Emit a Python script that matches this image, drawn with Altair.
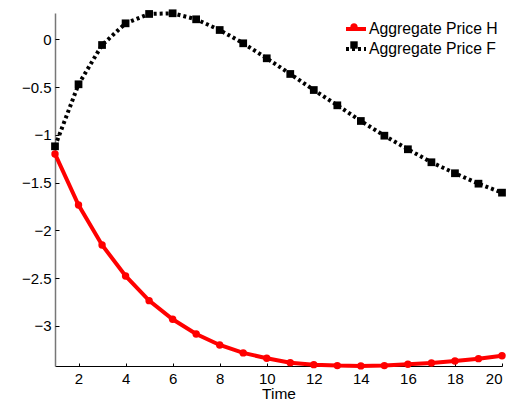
import altair as alt
import pandas as pd

time = list(range(1, 21))
price_h = [-1.200, -1.734, -2.152, -2.477, -2.735, -2.930, -3.084, -3.199, -3.282, -3.338,
           -3.384, -3.405, -3.415, -3.418, -3.415, -3.401, -3.387, -3.366, -3.342, -3.311]
price_f = [-1.120, -0.471, -0.060, 0.167, 0.265, 0.272, 0.209, 0.097, -0.042, -0.199,
           -0.363, -0.531, -0.691, -0.855, -1.009, -1.151, -1.287, -1.402, -1.511, -1.605]
series_names = ["Aggregate Price H", "Aggregate Price F"]
series_codes = ["H", "F"]
x_ticks = [2, 4, 6, 8, 10, 12, 14, 16, 18, 20]
y_ticks = [-3, -2.5, -2, -1.5, -1, -0.5, 0]

df = pd.DataFrame({
    "t": time * 2,
    "v": price_h + price_f,
    "series": [series_names[0]] * len(time) + [series_names[1]] * len(time),
    "code": [series_codes[0]] * len(time) + [series_codes[1]] * len(time),
})
dh = df[df.series == series_names[0]]
dfo = df[df.series == series_names[1]]

FONT = "Liberation Sans"
W, H = 447, 353
xs = alt.Scale(domain=[1, 20], nice=False, zero=False)
ys = alt.Scale(domain=[-3.419, 0.275], nice=False, zero=False)

x_main = alt.X("t:Q", scale=xs, axis=alt.Axis(
    values=x_ticks, title="Time", orient="bottom", tickSize=0, labelPadding=5,
    labelFontSize=15, titleFontSize=15.5, titlePadding=0, titleFontWeight="normal",
    domainColor="#000", domainWidth=1, grid=False, labelColor="#000", titleColor="#000",
    labelFont=FONT, titleFont=FONT))
y_main = alt.Y("v:Q", scale=ys, axis=alt.Axis(
    values=y_ticks, title=None, orient="left", tickSize=0, labelPadding=4,
    labelFontSize=15, domainColor="#777", domainWidth=1.5, grid=False,
    labelColor="#000", labelFont=FONT, format="~g"))
x_in = alt.X("t:Q", scale=xs, axis=alt.Axis(
    values=x_ticks, title=None, orient="top", offset=-H, tickSize=3, labels=False,
    domain=False, grid=False, tickColor="#000"))
y_in = alt.Y("v:Q", scale=ys, axis=alt.Axis(
    values=y_ticks, title=None, orient="right", offset=-W, tickSize=4, labels=False,
    domain=False, grid=False, tickColor="#000"))
x_none = alt.X("t:Q", scale=xs, axis=None)
y_none = alt.Y("v:Q", scale=ys, axis=None)

line_h = alt.Chart(dh).mark_line(color="#ff0000", strokeWidth=4).encode(x=x_main, y=y_main)
pts_h = alt.Chart(dh).mark_point(filled=True, shape="circle", size=55, color="#ff0000",
                                 opacity=1).encode(x=x_none, y=y_none)
line_f = alt.Chart(dfo).mark_line(color="#000000", strokeWidth=4, strokeDash=[3, 3],
                                  strokeCap="butt").encode(x=x_in, y=y_in)
pts_f = alt.Chart(dfo).mark_point(filled=True, shape="square", size=60, color="#000000",
                                  opacity=1).encode(x=x_none, y=y_none)

LX, LY = 289, 4
leg_lines = alt.Legend(title=None, orient="none", legendX=LX, legendY=LY, padding=0,
                       symbolSize=400, symbolStrokeWidth=4, labelOffset=1, rowPadding=-1,
                       labelFontSize=15.75, labelFont=FONT, labelColor="#000",
                       symbolOpacity=1, labelLimit=300, symbolType="stroke")
legend_lines = alt.Chart(df).transform_filter("datum.t < 0").mark_line(opacity=1).encode(
    x=x_none, y=y_none,
    stroke=alt.Stroke("series:N", scale=alt.Scale(domain=series_names, range=["#ff0000", "#000000"]), legend=leg_lines),
    strokeDash=alt.StrokeDash("series:N", scale=alt.Scale(domain=series_names, range=[[1, 0], [3, 3]]), legend=leg_lines),
)

circle_path = "M-0.37,0A0.37,0.37,0,1,1,0.37,0A0.37,0.37,0,1,1,-0.37,0Z"
square_path = "M-0.37,-0.37L0.37,-0.37L0.37,0.37L-0.37,0.37Z"
leg_marks = alt.Legend(title=None, orient="none", legendX=LX, legendY=LY, padding=0,
                       symbolSize=400, symbolStrokeWidth=0, labelOffset=1, rowPadding=-1,
                       labelFontSize=15.75, labelFont=FONT, labelExpr="''",
                       symbolOpacity=1)
legend_marks = alt.Chart(df).transform_filter("datum.t < 0").mark_point(filled=True, opacity=1).encode(
    x=x_none, y=y_none,
    shape=alt.Shape("code:N", scale=alt.Scale(domain=series_codes, range=[circle_path, square_path]), legend=leg_marks),
    fill=alt.Fill("code:N", scale=alt.Scale(domain=series_codes, range=["#ff0000", "#000000"]), legend=leg_marks),
)

chart = alt.layer(line_h, line_f, pts_h, pts_f, legend_lines, legend_marks).resolve_axis(
    x="independent", y="independent"
).properties(
    width=W, height=H,
    autosize=alt.AutoSizeParams(type="none"),
    padding={"left": 55, "top": 13, "right": 13, "bottom": 36},
    background="white",
).configure_view(stroke=None)

chart.save("out.html", embed_options={"renderer": "svg", "actions": False})
